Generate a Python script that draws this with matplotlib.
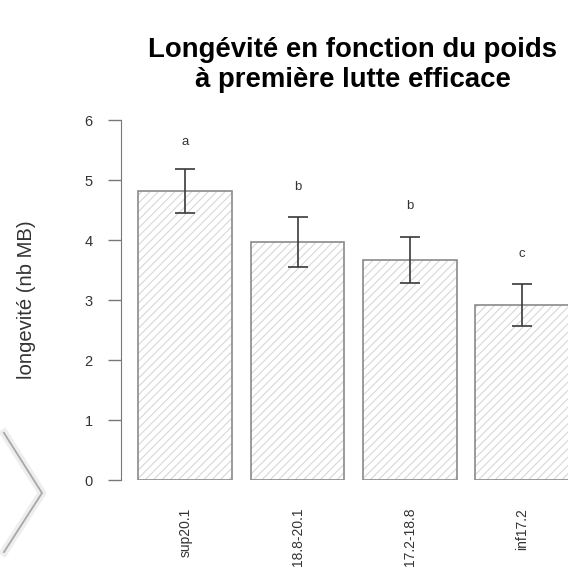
import matplotlib.pyplot as plt
from matplotlib.lines import Line2D

plt.rcParams['font.family'] = ['Liberation Sans', 'DejaVu Sans']
plt.rcParams['hatch.linewidth'] = 0.7

# data
categories = ['sup20.1', '18.8-20.1', '17.2-18.8', 'inf17.2']
means = [4.82, 3.96, 3.67, 2.92]
err_low = [4.45, 3.55, 3.28, 2.57]
err_high = [5.18, 4.38, 4.05, 3.27]
letters = ['a', 'b', 'b', 'c']
letter_y = [5.64, 4.88, 4.56, 3.77]

W, H = 568, 577
fig = plt.figure(figsize=(W / 100, H / 100), dpi=100)
fig.patch.set_facecolor('white')

# axes placed in pixel terms (R barplot style, image cropped on the right)
left, right, bottom, top = 121, 568, 480, 120
ax = fig.add_axes([left / W, (H - bottom) / H, (right - left) / W, (bottom - top) / H])

# R barplot geometry: width 1, space 0.2
x = [0.7 + 1.2 * i for i in range(len(categories))]
# hatch layer (light), then the darker outline on top
ax.bar(x, means, width=1.0, color='white', edgecolor='#d2d2d2',
       linewidth=0, hatch='////', zorder=2)
ax.bar(x, means, width=1.0, fill=False, edgecolor='#8a8a8a',
       linewidth=1.2, zorder=2.5)

yerr = [[m - lo for m, lo in zip(means, err_low)],
        [hi - m for m, hi in zip(means, err_high)]]
ax.errorbar(x, means, yerr=yerr, fmt='none', ecolor='#3a3a3a',
            elinewidth=1.2, capsize=7.5, capthick=1.2, zorder=3)

for xi, lab, ly in zip(x, letters, letter_y):
    ax.text(xi, ly, lab, ha='center', va='center', fontsize=9.5, color='#333333')

ax.set_xlim(0.014, 4.79)
ax.set_ylim(0, 6)
for s in ['top', 'right', 'bottom']:
    ax.spines[s].set_visible(False)
ax.spines['left'].set_color('#777777')
ax.spines['left'].set_bounds(0, 6)
ax.set_yticks(range(0, 7))
ax.tick_params(axis='y', length=9.5, width=1, color='#777777',
               labelsize=10.5, labelcolor='#333333', pad=11)
ax.set_xticks(x)
ax.set_xticklabels(categories, rotation=90, fontsize=10, color='#333333')
ax.tick_params(axis='x', length=0, pad=20)

ax.set_ylabel('longevité (nb MB)', fontsize=14.6, color='#333333', labelpad=35)

fig.text(353 / W, 1 - 65 / H, 'Longévité en fonction du poids\nà première lutte efficace',
         ha='center', va='center', fontsize=19.8, fontweight='bold',
         linespacing=1.2)

# slide chevron decoration at the lower left
fig.add_artist(Line2D([4 / W, 42 / W, 4 / W], [1 - 433 / H, 1 - 493 / H, 1 - 552 / H],
                      transform=fig.transFigure, color='#eeeeee', lw=6))
fig.add_artist(Line2D([4 / W, 42 / W, 4 / W], [1 - 433 / H, 1 - 493 / H, 1 - 552 / H],
                      transform=fig.transFigure, color='#a8a8a8', lw=1.3))

fig.savefig('out.png', dpi=100, facecolor='white')
